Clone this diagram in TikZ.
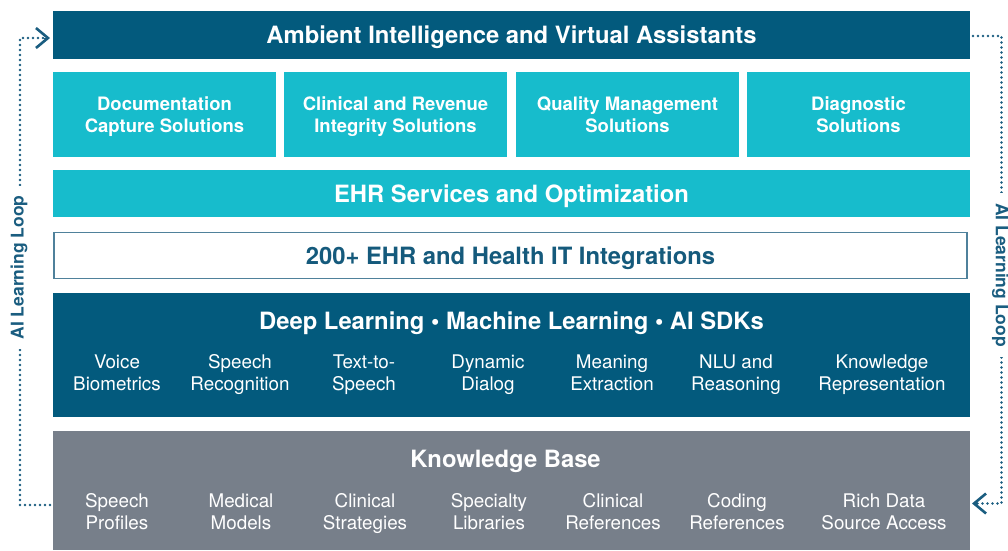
\documentclass[tikz,border=0pt]{standalone}
\usepackage{fontspec}
\setmainfont{TeX Gyre Heros}
\usetikzlibrary{arrows.meta}
\definecolor{cdark}{HTML}{035A7D}
\definecolor{ccyan}{HTML}{17BCCC}
\definecolor{cgray}{HTML}{777F8A}
\definecolor{cborder}{HTML}{4F819B}
\definecolor{ctext}{HTML}{155A7C}
\definecolor{cloop}{HTML}{1A5D80}
\newcommand\tilestrut{\vrule width 0pt height 17.6pt depth 4.35pt}
\newcommand\itemstrut{\vrule width 0pt height 17.7pt depth 4.25pt}
\tikzset{
  band/.style={anchor=north west, inner sep=0pt, outer sep=0pt, text=white,
    text height=20pt, text depth=3pt,
    font=\bfseries\fontsize{23.8}{26}\selectfont},
  tile/.style={anchor=north west, inner sep=0pt, outer sep=0pt, fill=ccyan, text=white,
    minimum width=223pt, minimum height=85pt, align=center,
    font=\bfseries\fontsize{18.5}{22}\selectfont},
  heading/.style={text=white, inner sep=0pt, text height=20pt, text depth=3pt,
    font=\bfseries\fontsize{23.8}{26}\selectfont},
  item/.style={text=white, inner sep=0pt, align=center, font=\fontsize{18.8}{22}\selectfont},
  looplabel/.style={text=cloop, fill=white, inner xsep=10pt, inner ysep=2pt,
    font=\bfseries\fontsize{17.5}{20}\selectfont},
  loopline/.style={draw=cloop, line width=2.8pt, line cap=round,
    dash pattern=on 0pt off 5pt},
  chevron/.style={-{Straight Barb[length=12pt,width=20pt,line width=2.6pt]}}
}
\begin{document}
\begin{tikzpicture}[x=1pt,y=-1pt]
\useasboundingbox (0,0) rectangle (1008,550);
% bands
\node[band, fill=cdark, minimum width=917pt, minimum height=48pt] (top) at (53,11) {Ambient Intelligence and Virtual Assistants};
\node[tile] (t1) at (53,72) {\tilestrut Documentation\\\tilestrut Capture Solutions};
\node[tile] (t2) at (284,72) {\tilestrut Clinical and Revenue\\\tilestrut Integrity Solutions};
\node[tile] (t3) at (516,72) {\tilestrut Quality Management\\\tilestrut Solutions};
\node[tile] (t4) at (747,72) {\tilestrut Diagnostic\\\tilestrut Solutions};
\node[band, fill=ccyan, minimum width=917pt, minimum height=47pt] (ehr) at (53,170) {EHR Services and Optimization};
\node[band, fill=white, draw=cborder, line width=1.5pt, text=ctext, minimum width=913pt, minimum height=46pt] (integ) at (54,232.5) {200+ EHR and Health IT Integrations};
\node[anchor=north west, inner sep=0pt, outer sep=0pt, fill=cdark, minimum width=917pt, minimum height=124pt] (dl) at (53,293) {};
\node[anchor=north west, inner sep=0pt, outer sep=0pt, fill=cgray, minimum width=917pt, minimum height=119pt] (kb) at (53,431) {};
% deep learning content
\node[heading] (dlh) at (511.5,320.5) {Deep Learning \textbullet\ Machine Learning \textbullet\ AI SDKs};
\node[item] (d1) at (117,372.5) {\itemstrut Voice\\\itemstrut Biometrics};
\node[item] (d2) at (240,372.5) {\itemstrut Speech\\\itemstrut Recognition};
\node[item] (d3) at (364,372.5) {\itemstrut Text-to-\\\itemstrut Speech};
\node[item] (d4) at (488,372.5) {\itemstrut Dynamic\\\itemstrut Dialog};
\node[item] (d5) at (612,372.5) {\itemstrut Meaning\\\itemstrut Extraction};
\node[item] (d6) at (736,372.5) {\itemstrut NLU and\\\itemstrut Reasoning};
\node[item] (d7) at (882,372.5) {\itemstrut Knowledge\\\itemstrut Representation};
% knowledge base content
\node[heading] (kbh) at (505.5,459) {Knowledge Base};
\node[item] (k1) at (117,511.7) {\itemstrut Speech\\\itemstrut Profiles};
\node[item] (k2) at (241,511.7) {\itemstrut Medical\\\itemstrut Models};
\node[item] (k3) at (365,511.7) {\itemstrut Clinical\\\itemstrut Strategies};
\node[item] (k4) at (489,511.7) {\itemstrut Specialty\\\itemstrut Libraries};
\node[item] (k5) at (613,511.7) {\itemstrut Clinical\\\itemstrut References};
\node[item] (k6) at (737,511.7) {\itemstrut Coding\\\itemstrut References};
\node[item] (k7) at (884,511.7) {\itemstrut Rich Data\\\itemstrut Source Access};
% loops
\coordinate (ls) at (50,505);
\coordinate (le) at (50,38);
\coordinate (rs) at (973,36);
\coordinate (re) at (972,503.5);
\draw[loopline] (ls) -- (20,505) -- (20,38) -- ([xshift=-3pt]le);
\draw[chevron, draw=cloop] ([xshift=-6pt]le) -- (le);
\draw[loopline] (rs) -- (1001.5,36) -- (1001.5,503.5) -- ([xshift=4pt]re);
\draw[chevron, draw=cloop] ([xshift=6pt]re) -- (re);
\node[looplabel, rotate=90] (ll) at (19,267.5) {AI Learning Loop};
\node[looplabel, rotate=-90] (rl) at (1000.5,275) {AI Learning Loop};
\end{tikzpicture}
\end{document}
